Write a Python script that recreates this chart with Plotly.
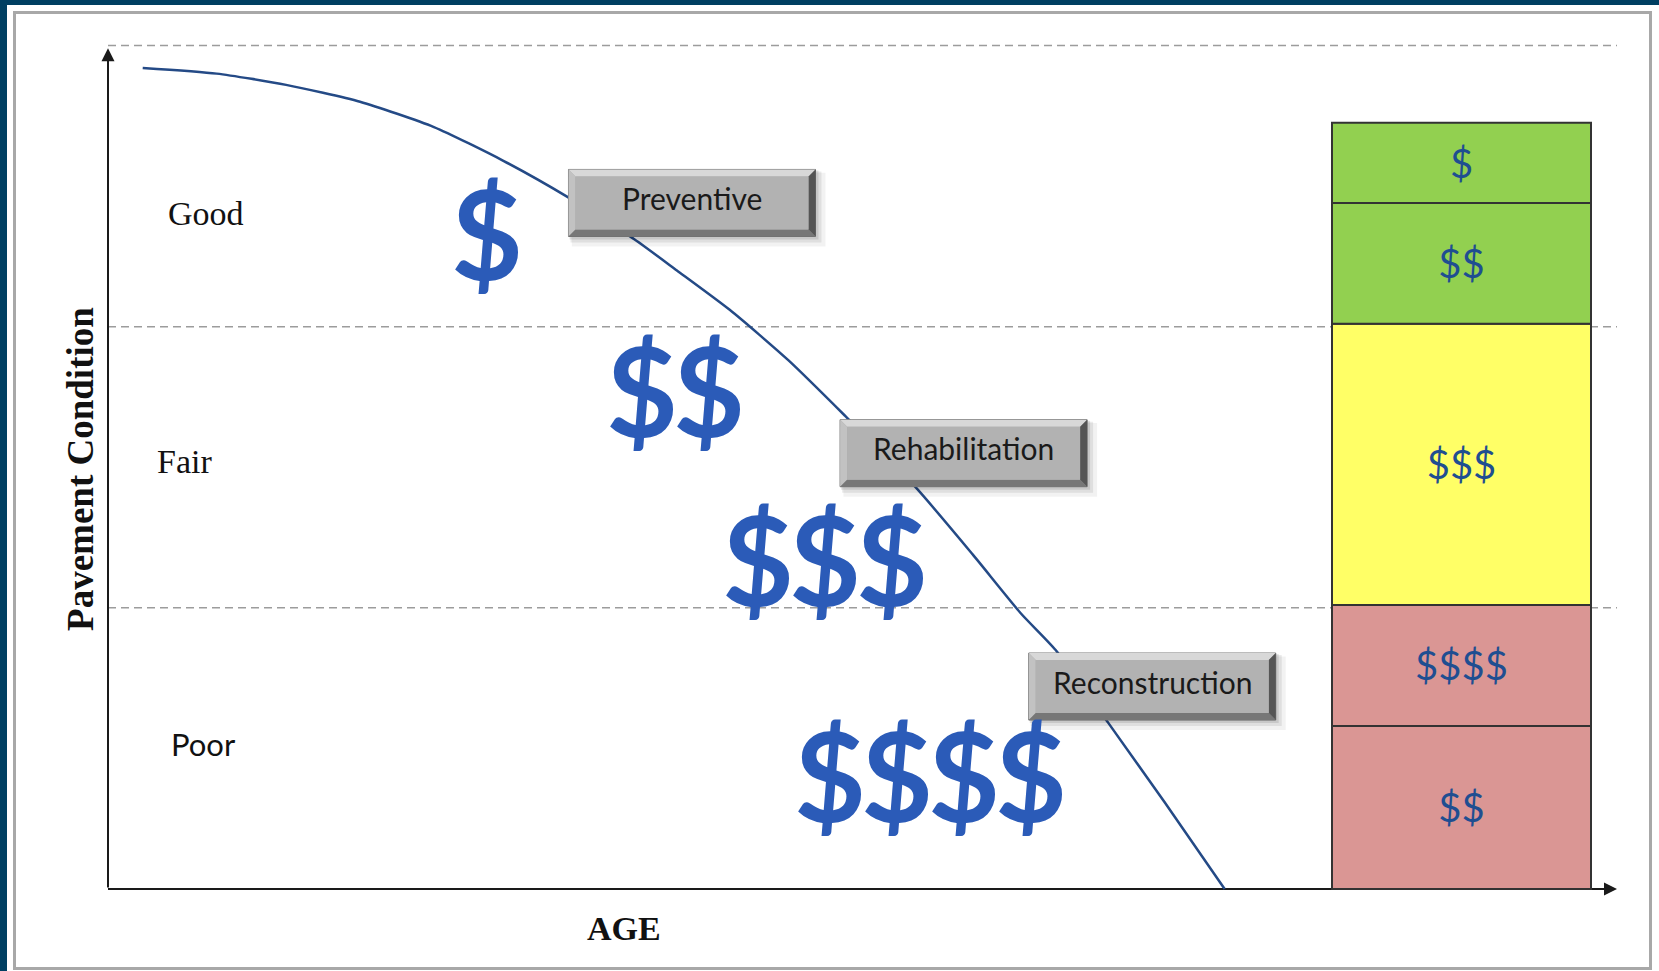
import plotly.graph_objects as go

# ---------------- data ----------------
curve_age = [2.3, 7.2, 11.8, 16.7, 21.6, 26.2, 30.5, 34.9, 37.7, 41.2, 45.1,
             48.9, 53.5, 57.3, 60.5, 62.8, 66.3, 70.0, 74.0]
curve_condition = [2.92, 2.90, 2.86, 2.80, 2.71, 2.59, 2.46, 2.31, 2.20, 2.06, 1.88,
                   1.68, 1.43, 1.19, 0.98, 0.85, 0.59, 0.31, 0.0]

band_names = ["Good", "Fair", "Poor"]
band_limits = [1, 2, 3]

treatments = ["Preventive", "Rehabilitation", "Reconstruction"]
treatment_age = [38.7, 56.7, 69.2]
treatment_condition = [2.44, 1.55, 0.72]

cost_labels = ["$", "$$", "$$$", "$$$$"]
cost_age = [25.1, 37.6, 47.5, 54.5]
cost_condition = [2.32, 1.76, 1.16, 0.39]

scale_labels = ["$$", "$$$$", "$$$", "$$", "$"]          # bottom to top
scale_heights = [0.58, 0.43, 1.00, 0.43, 0.285]

# ---------------- styles ----------------
scale_colors = ["#da9694", "#da9694", "#ffff66", "#92d050", "#92d050"]
W, H = 1659, 971
KX = 15.09          # px per age unit
KY = 281.1667       # px per condition unit
X0 = -108 / KX
X1 = X0 + W / KX
Y1 = 3 + 45.5 / KY
Y0 = Y1 - H / KY


def dx(p):
    return p / KX


def dy(p):
    return p / KY


fig = go.Figure()

# degradation curve
fig.add_trace(go.Scatter(
    x=curve_age, y=curve_condition, mode="lines",
    line=dict(color="#244a86", width=2.5, shape="spline", smoothing=0.6),
    hoverinfo="skip", showlegend=False))

# cost scale bar
bases = []
acc = 0
for h in scale_heights:
    bases.append(acc)
    acc += h
bar_x = (1461.5 - 108) / KX
fig.add_trace(go.Bar(
    x=[bar_x] * len(scale_heights), y=scale_heights, base=bases,
    width=dx(259),
    marker=dict(color=scale_colors, line=dict(color="#333333", width=2)),
    text=scale_labels, textposition="inside", insidetextanchor="middle",
    textangle=0, constraintext="none",
    textfont=dict(family="Lato", size=40, color="#1f4e91"),
    hoverinfo="skip", showlegend=False))

shapes = []
# frame
shapes.append(dict(type="rect", xref="paper", yref="paper", x0=0, x1=7 / W, y0=0, y1=1,
                   fillcolor="#003f62", line=dict(width=0), layer="below"))
shapes.append(dict(type="rect", xref="paper", yref="paper", x0=0, x1=1, y0=1 - 5 / H, y1=1,
                   fillcolor="#003f62", line=dict(width=0), layer="below"))
shapes.append(dict(type="rect", xref="paper", yref="paper", x0=14.5 / W, x1=1650.5 / W,
                   y0=1 - 968.5 / H, y1=1 - 12.5 / H, fillcolor="rgba(0,0,0,0)",
                   line=dict(color="#a8a8a8", width=3), layer="below"))

# dashed band limits
for lim in band_limits:
    shapes.append(dict(type="line", xref="x", yref="y", x0=0, x1=100, y0=lim, y1=lim,
                       line=dict(color="#9c9c9c", width=1.5, dash="8px,5px"), layer="below"))
# x axis line (arrow head added as annotation)
shapes.append(dict(type="line", xref="x", yref="y", x0=0, x1=99, y0=0, y1=0,
                   line=dict(color="#1a1a1a", width=2), layer="below"))

# beveled treatment boxes
hw, hh, b = 123.5, 33.5, 7
for a, c in zip(treatment_age, treatment_condition):
    L, R = a - dx(hw), a + dx(hw)
    T, B = c + dy(hh), c - dy(hh)
    # soft shadow
    for off, alpha in [(10, 0.05), (6, 0.08), (3, 0.10)]:
        shapes.append(dict(type="rect", xref="x", yref="y",
                           x0=L + dx(off / 3), x1=R + dx(off), y0=B - dy(off), y1=T - dy(off / 3),
                           fillcolor="rgba(0,0,0,%.2f)" % alpha, line=dict(width=0), layer="above"))
    shapes.append(dict(type="rect", xref="x", yref="y", x0=L, x1=R, y0=B, y1=T,
                       fillcolor="#a8a8a8", line=dict(color="#6a6a6a", width=1), layer="above"))
    bx, by = dx(b), dy(b)

    def poly(pts, col):
        p = "M " + " L ".join("%f,%f" % q for q in pts) + " Z"
        shapes.append(dict(type="path", xref="x", yref="y", path=p, fillcolor=col,
                           line=dict(width=0), layer="above"))
    poly([(L, T), (R, T), (R - bx, T - by), (L + bx, T - by)], "#d8d8d8")
    poly([(L, T), (L + bx, T - by), (L + bx, B + by), (L, B)], "#c2c2c2")
    poly([(L, B), (L + bx, B + by), (R - bx, B + by), (R, B)], "#777777")
    poly([(R, T), (R, B), (R - bx, B + by), (R - bx, T - by)], "#555555")
    shapes.append(dict(type="rect", xref="x", yref="y", x0=L + bx, x1=R - bx, y0=B + by, y1=T - by,
                       fillcolor="#b2b2b2", line=dict(width=0), layer="above"))

annotations = []
# axes arrows
annotations.append(dict(x=0, y=2.99, ax=0, ay=0, xref="x", yref="y", axref="x", ayref="y",
                        text="", showarrow=True, arrowhead=2, arrowsize=1.3, arrowwidth=2,
                        arrowcolor="#1a1a1a", standoff=0))
annotations.append(dict(x=100, y=0, ax=98.4, ay=0, xref="x", yref="y", axref="x", ayref="y",
                        text="", showarrow=True, arrowhead=2, arrowsize=1.3, arrowwidth=2,
                        arrowcolor="#1a1a1a", standoff=0))

# band labels
band_pos = {"Good": (6.49, 2.404), "Fair": (5.04, 1.522), "Poor": (6.36, 0.516)}
for name in band_names:
    xa, ya = band_pos[name]
    fam = "Lato" if name == "Poor" else "Liberation Serif"
    size = 31 if name == "Poor" else 34
    annotations.append(dict(x=xa, y=ya, xref="x", yref="y", text=name, showarrow=False,
                            font=dict(family=fam, size=size, color="#111111")))

# axis titles
annotations.append(dict(x=-1.79, y=1.494, xref="x", yref="y", text="<b>Pavement Condition</b>",
                        textangle=-90, showarrow=False,
                        font=dict(family="Liberation Serif", size=37, color="#111111")))
annotations.append(dict(x=34.19, y=-0.142, xref="x", yref="y", text="<b>AGE</b>", showarrow=False,
                        font=dict(family="Liberation Serif", size=34, color="#111111")))

# treatment labels
for t, a, c in zip(treatments, treatment_age, treatment_condition):
    annotations.append(dict(x=a, y=c, xref="x", yref="y", text=t, showarrow=False, yshift=5,
                            font=dict(family="Lato", size=30, color="#1a1a1a")))

# cost symbols (each glyph placed individually for tighter spacing)
step = 67
for t, a, c in zip(cost_labels, cost_age, cost_condition):
    n = len(t)
    for i, ch in enumerate(t):
        annotations.append(dict(x=a, y=c, xref="x", yref="y", text="<b>%s</b>" % ch,
                                showarrow=False, xshift=(i - (n - 1) / 2) * step, yshift=5,
                                font=dict(family="Lato", size=124, color="#2b5bb8")))

fig.update_layout(
    width=W, height=H, autosize=False,
    margin=dict(l=0, r=0, t=0, b=0, pad=0),
    paper_bgcolor="white", plot_bgcolor="rgba(0,0,0,0)",
    showlegend=False, barmode="overlay",
    xaxis=dict(range=[X0, X1], visible=False, fixedrange=True),
    yaxis=dict(range=[Y0, Y1], visible=False, fixedrange=True),
    shapes=shapes, annotations=annotations,
)

fig.write_html("out.html", config={"displayModeBar": False},
               post_script="document.body.style.margin='0';document.body.style.overflow='hidden';")
